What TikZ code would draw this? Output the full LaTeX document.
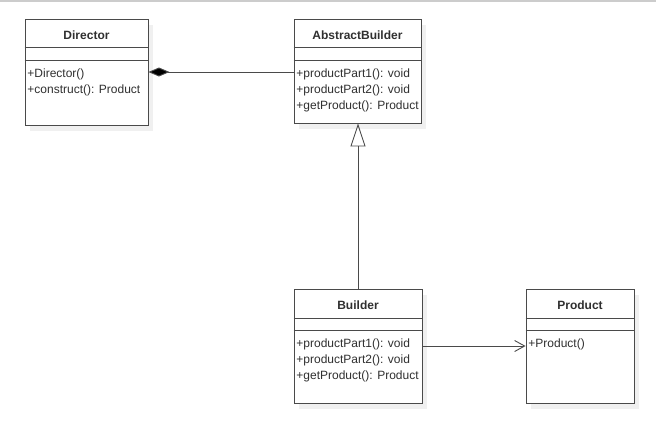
\documentclass[tikz,border=0pt]{standalone}
\usepackage{fontspec}
\setmainfont{Liberation Sans}
\usepackage{tikz}
\usetikzlibrary{arrows.meta,shadows}
\definecolor{umlline}{HTML}{4A4A4A}
\definecolor{umltext}{HTML}{303030}

\begin{document}
\begin{tikzpicture}[x=1pt, y=-1pt, line width=0.9pt,
 cls/.style={draw=umlline, fill=white, inner sep=0pt, drop shadow={shadow xshift=5pt, shadow yshift=-6pt, fill=black!6, opacity=1}},
 sep/.style={draw=umlline},
 ttl/.style={anchor=base, inner sep=0pt, font=\fontsize{12}{16}\selectfont\bfseries, text=umltext},
 ops/.style={anchor=north west, inner sep=0pt, align=left, font=\fontsize{12}{16}\selectfont, text=umltext}]
 \useasboundingbox (0,0) rectangle (656,421);
 \draw[black!20, line width=1.5pt] (0,0.75) -- (656,0.75);

 \node[cls, minimum width=123pt, minimum height=106pt] (director) at (86.5,72) {};
 \node[ttl] (directorname) at (86.5,39) {Director};
 \draw[sep] ([yshift=-29pt]director.north west) -- ([yshift=-29pt]director.north east);
 \draw[sep] ([yshift=-42pt]director.north west) -- ([yshift=-42pt]director.north east);
 \node[ops] (directorops) at (27,68) {+Director()\\+construct(): Product};

 \node[cls, minimum width=127pt, minimum height=104pt] (abstract) at (357.5,71) {};
 \node[ttl] (abstractname) at (357.5,39) {AbstractBuilder};
 \draw[sep] ([yshift=-29pt]abstract.north west) -- ([yshift=-29pt]abstract.north east);
 \draw[sep] ([yshift=-42pt]abstract.north west) -- ([yshift=-42pt]abstract.north east);
 \node[ops] (abstractops) at (296,68) {+productPart1(): void\\+productPart2(): void\\+getProduct(): Product};

 \node[cls, minimum width=128pt, minimum height=114pt] (builder) at (358,346) {};
 \node[ttl] (buildername) at (358,309) {Builder};
 \draw[sep] ([yshift=-30pt]builder.north west) -- ([yshift=-30pt]builder.north east);
 \draw[sep] ([yshift=-42pt]builder.north west) -- ([yshift=-42pt]builder.north east);
 \node[ops] (builderops) at (296,338) {+productPart1(): void\\+productPart2(): void\\+getProduct(): Product};

 \node[cls, minimum width=108pt, minimum height=114pt] (product) at (580,346) {};
 \node[ttl] (productname) at (580,309) {Product};
 \draw[sep] ([yshift=-30pt]product.north west) -- ([yshift=-30pt]product.north east);
 \draw[sep] ([yshift=-42pt]product.north west) -- ([yshift=-42pt]product.north east);
 \node[ops] (productops) at (528,338) {+Product()};

 \draw[umlline, -{Diamond[length=21pt,width=9pt,fill=black]}] (abstract.west |- director.east) -- (director.east);
 \draw[umlline, -{Triangle[open,length=23pt,width=15pt]}] (builder.north) -- (builder.north |- abstract.south);
 \draw[umlline, -{Straight Barb[length=10pt,width=11pt]}] (builder) -- (product);
\end{tikzpicture}
\end{document}
